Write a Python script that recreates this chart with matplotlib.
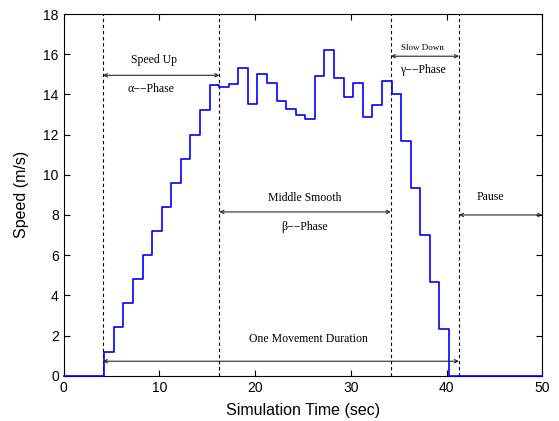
import numpy as np
import matplotlib
matplotlib.use("Agg")
import matplotlib.pyplot as plt

# step signal: speed held for 1 s from each time stamp
time = [0, 4.25, 5.25, 6.25, 7.25, 8.25, 9.25, 10.25, 11.25, 12.25, 13.25,
        14.25, 15.25, 16.25, 17.25, 18.25, 19.25, 20.25, 21.25, 22.25, 23.25,
        24.25, 25.25, 26.25, 27.25, 28.25, 29.25, 30.25, 31.25, 32.25, 33.25,
        34.25, 35.25, 36.25, 37.25, 38.25, 39.25, 40.25, 50]
speed = [0, 1.2, 2.4, 3.6, 4.8, 6.0, 7.2, 8.4, 9.6, 10.8, 12.0,
         13.2, 14.45, 14.38, 14.53, 15.31, 13.5, 15.02, 14.55, 13.65, 13.27,
         12.99, 12.79, 14.93, 16.2, 14.83, 13.85, 14.58, 12.89, 13.45, 14.68,
         14.0, 11.67, 9.33, 7.0, 4.67, 2.33, 0, 0]

phase_bounds = [4.1, 16.27, 34.18, 41.3]

plt.rcParams["font.family"] = ["Liberation Sans", "DejaVu Sans"]
serif = ["Liberation Serif", "DejaVu Serif"]

fig = plt.figure(figsize=(5.59, 4.21), dpi=100)
ax = fig.add_axes([0.1138, 0.1076, 0.8563, 0.8591])

ax.step(time, speed, where="post", color="#0000ff", lw=1.2, zorder=3, clip_on=False)

for xb in phase_bounds:
    ax.axvline(xb, color="k", lw=0.8, ls=(0, (3, 2.5)), zorder=1)


def span(x0, x1, y):
    ax.annotate("", xy=(x1, y), xytext=(x0, y),
                arrowprops=dict(arrowstyle="<->", color="0.15", lw=0.8,
                                mutation_scale=6, shrinkA=0, shrinkB=0))


span(phase_bounds[0], phase_bounds[1], 14.95)
ax.text(9.45, 15.7, "Speed Up", ha="center", va="center", family=serif, fontsize=8.5)
ax.text(9.1, 14.25, "α−−Phase", ha="center", va="center", family=serif, fontsize=8.5)

span(phase_bounds[1], phase_bounds[2], 8.15)
ax.text(25.2, 8.85, "Middle Smooth", ha="center", va="center", family=serif, fontsize=8.5)
ax.text(25.2, 7.4, "β−−Phase", ha="center", va="center", family=serif, fontsize=8.5)

span(phase_bounds[2], phase_bounds[3], 15.9)
ax.text(37.5, 16.3, "Slow Down", ha="center", va="center", family=serif, fontsize=6.5)
ax.text(37.5, 15.2, "γ−−Phase", ha="center", va="center", family=serif, fontsize=8.5)

span(phase_bounds[3], 50, 8.0)
ax.text(44.6, 8.9, "Pause", ha="center", va="center", family=serif, fontsize=8.5)

span(phase_bounds[0], phase_bounds[3], 0.72)
ax.text(25.6, 1.82, "One Movement Duration", ha="center", va="center", family=serif, fontsize=8.5)

ax.set_xlim(0, 50)
ax.set_ylim(0, 18)
ax.set_xticks([0, 10, 20, 30, 40, 50])
ax.set_yticks(np.arange(0, 19, 2))
ax.tick_params(direction="in", top=True, right=True, labelsize=10, length=4, width=0.8)
for s in ax.spines.values():
    s.set_linewidth(0.8)
ax.set_xlabel("Simulation Time (sec)", fontsize=11.5, labelpad=6)
ax.set_ylabel("Speed (m/s)", fontsize=11.5, labelpad=10)

fig.savefig("out.png", dpi=100)
